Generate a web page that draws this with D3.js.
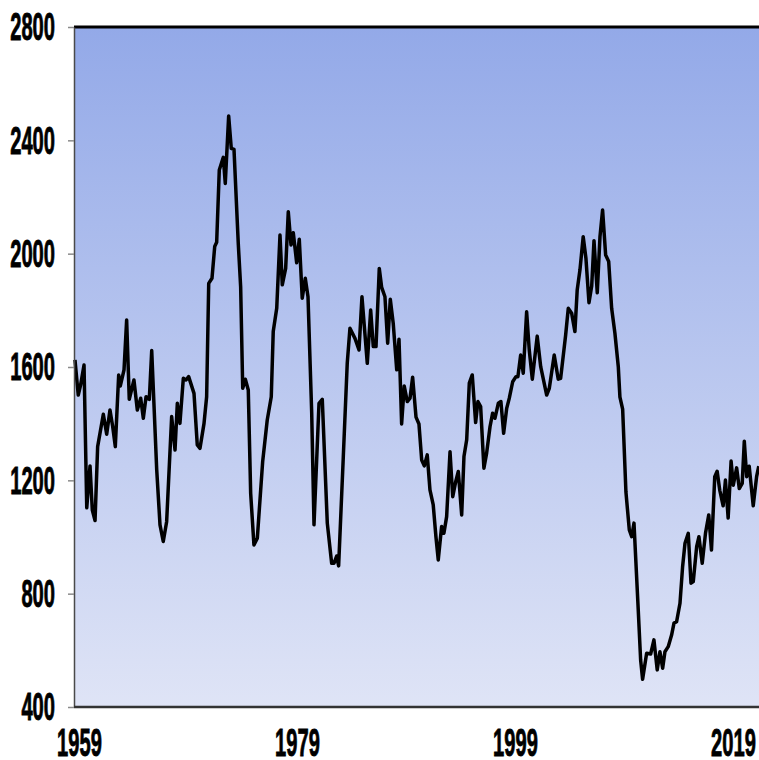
<!DOCTYPE html>
<html>
<head>
<meta charset="UTF-8">
<title>Starts</title>
<script src="https://d3js.org/d3.v7.min.js"></script>
<style>
  body { margin: 0; background: #fff; }
  svg { display: block; }
  .axis text { font-family: "Liberation Sans", Arial, sans-serif; font-weight: bold; font-size: 38px; fill: #000; stroke: #000; stroke-width: 0.9; }
  .yaxis line { stroke: #8a8a8a; stroke-width: 1.5; }
  .yaxis path { stroke: #4a4a4a; stroke-width: 1.5; }
  .xaxis path { stroke: #333; stroke-width: 2.5; }
  .xaxis line { display: none; }
</style>
</head>
<body>
<svg width="759" height="760"></svg>
<script>
// values (decimal year, thousands)
var years = [1959.09,1959.39,1959.61,1959.92,1960.17,1960.47,1960.68,1960.93,1961.17,1961.69,1962.0,1962.3,1962.55,1962.79,1963.1,1963.25,1963.59,1963.83,1964.07,1964.5,1964.81,1965.12,1965.36,1965.61,1965.91,1966.13,1966.59,1966.89,1967.19,1967.5,1967.96,1968.27,1968.48,1968.72,1969.03,1969.28,1969.52,1970.01,1970.31,1970.56,1970.93,1971.17,1971.36,1971.66,1971.91,1972.09,1972.33,1972.7,1972.88,1973.19,1973.43,1973.68,1974.07,1974.29,1974.48,1974.72,1974.99,1975.21,1975.51,1975.82,1976.31,1976.73,1977.1,1977.28,1977.6,1977.9,1978.11,1978.42,1978.66,1978.91,1979.12,1979.43,1979.67,1979.94,1980.22,1980.47,1980.81,1981.02,1981.48,1981.78,1982.24,1982.64,1982.85,1983.1,1983.28,1983.71,1984.07,1984.32,1984.78,1985.15,1985.42,1985.91,1986.22,1986.46,1986.71,1987.01,1987.23,1987.53,1987.78,1988.02,1988.29,1988.61,1988.82,1989.06,1989.3,1989.58,1989.83,1990.07,1990.38,1990.65,1990.9,1991.14,1991.41,1991.66,1991.96,1992.21,1992.42,1992.73,1992.94,1993.19,1993.5,1993.75,1994.02,1994.26,1994.57,1994.78,1995.03,1995.27,1995.54,1995.85,1996.06,1996.31,1996.61,1996.86,1997.17,1997.41,1997.62,1997.93,1998.17,1998.42,1998.7,1998.94,1999.25,1999.55,1999.73,1999.98,2000.22,2000.53,2000.77,2001.05,2001.5,2001.82,2002.37,2002.61,2003.06,2003.43,2003.65,2004.11,2004.35,2004.66,2004.96,2005.17,2005.42,2005.72,2005.97,2006.25,2006.5,2006.71,2007.01,2007.26,2007.5,2007.78,2008.06,2008.33,2008.63,2008.94,2009.09,2009.34,2009.64,2009.95,2010.17,2010.38,2010.77,2010.99,2011.17,2011.54,2011.91,2012.21,2012.51,2012.76,2013.01,2013.22,2013.52,2013.83,2014.05,2014.29,2014.6,2014.84,2015.06,2015.36,2015.61,2015.82,2016.13,2016.34,2016.64,2016.94,2017.24,2017.49,2017.79,2018.01,2018.25,2018.56,2018.77,2019.02,2019.29,2019.49,2019.8,2020.04,2020.31,2020.5,2020.72,2020.95,2021.32,2021.63,2021.83];
var starts = [1625,1501,1537,1607,1103,1251,1095,1058,1319,1433,1363,1448,1390,1319,1572,1533,1590,1766,1486,1554,1448,1490,1419,1495,1486,1658,1237,1043,984,1054,1425,1307,1472,1401,1560,1554,1566,1507,1325,1313,1401,1495,1895,1913,2025,2040,2295,2340,2248,2486,2372,2368,2037,1884,1525,1557,1519,1154,972,996,1266,1413,1495,1725,1807,2066,1890,1948,2148,2031,2074,1968,2051,1843,1913,1848,1437,1043,1472,1486,1049,907,907,933,898,1284,1613,1737,1701,1660,1848,1613,1801,1672,1672,1948,1881,1848,1684,1839,1754,1590,1698,1399,1533,1478,1490,1564,1423,1399,1272,1251,1290,1166,1113,1000,919,1037,1013,1072,1301,1142,1195,1231,1078,1284,1343,1543,1572,1404,1478,1460,1243,1296,1389,1437,1419,1472,1478,1366,1454,1490,1548,1566,1566,1642,1578,1795,1660,1557,1709,1601,1501,1525,1642,1557,1560,1713,1807,1790,1725,1872,1942,2060,1984,1827,1886,2046,1862,2060,2154,1995,1972,1807,1719,1601,1494,1451,1159,1025,1001,1049,743,566,498,590,587,637,531,595,537,595,613,654,696,701,766,895,978,1013,837,843,966,1001,907,1013,1078,954,1213,1232,1165,1110,1201,1067,1268,1183,1244,1171,1189,1338,1213,1250,1110,1213,1250];

var yTicks = [400, 800, 1200, 1600, 2000, 2400, 2800];
var xLabels = [1959, 1979, 1999, 2019];

var svg = d3.select("svg");
var plotLeft = 74, plotRight = 759, plotTop = 27, plotBottom = 707;
var squeeze = 0.53;   // labels in the picture are very narrow

var x = d3.scaleLinear().domain([1959, 2021.85]).range([plotLeft, plotRight]);
var y = d3.scaleLinear().domain([400, 2800]).range([plotBottom, plotTop]);

var grad = svg.append("defs").append("linearGradient")
    .attr("id", "bg").attr("x1", 0).attr("y1", 0).attr("x2", 0).attr("y2", 1);
grad.append("stop").attr("offset", "0%").attr("stop-color", "#93a9e8");
grad.append("stop").attr("offset", "100%").attr("stop-color", "#dfe4f6");

svg.append("rect")
    .attr("x", plotLeft).attr("y", plotTop)
    .attr("width", plotRight - plotLeft + 5).attr("height", plotBottom - plotTop)
    .attr("fill", "url(#bg)");

// top border
svg.append("line")
    .attr("x1", plotLeft).attr("x2", plotRight + 5)
    .attr("y1", plotTop).attr("y2", plotTop)
    .attr("stroke", "#000").attr("stroke-width", 3);

var points = years.map(function (d, i) { return [d, starts[i]]; });

svg.append("path")
    .datum(points)
    .attr("fill", "none")
    .attr("stroke", "#000")
    .attr("stroke-width", 3.5)
    .attr("stroke-linejoin", "round")
    .attr("d", d3.line().x(d => x(d[0])).y(d => y(d[1])));

var yAxis = svg.append("g")
    .attr("class", "axis yaxis")
    .attr("transform", "translate(" + plotLeft + ",0)")
    .call(d3.axisLeft(y).tickValues(yTicks).tickSize(6).tickSizeOuter(0).tickFormat(d3.format("d")));

yAxis.selectAll("text")
    .attr("x", -19 / squeeze)
    .attr("dy", "0.34em")
    .attr("transform", "scale(" + squeeze + ",1)");

var xAxis = svg.append("g")
    .attr("class", "axis xaxis")
    .attr("transform", "translate(0," + plotBottom + ")")
    .call(d3.axisBottom(x).tickValues(xLabels).tickSizeOuter(0).tickFormat(d3.format("d")));

xAxis.select(".domain").attr("d", "M" + plotLeft + ",0H" + (plotRight + 5));

xAxis.selectAll(".tick text")
    .attr("y", 49)
    .attr("dy", 0)
    .attr("x", 5 / squeeze)
    .attr("transform", "scale(" + squeeze + ",1)");
</script>
</body>
</html>
